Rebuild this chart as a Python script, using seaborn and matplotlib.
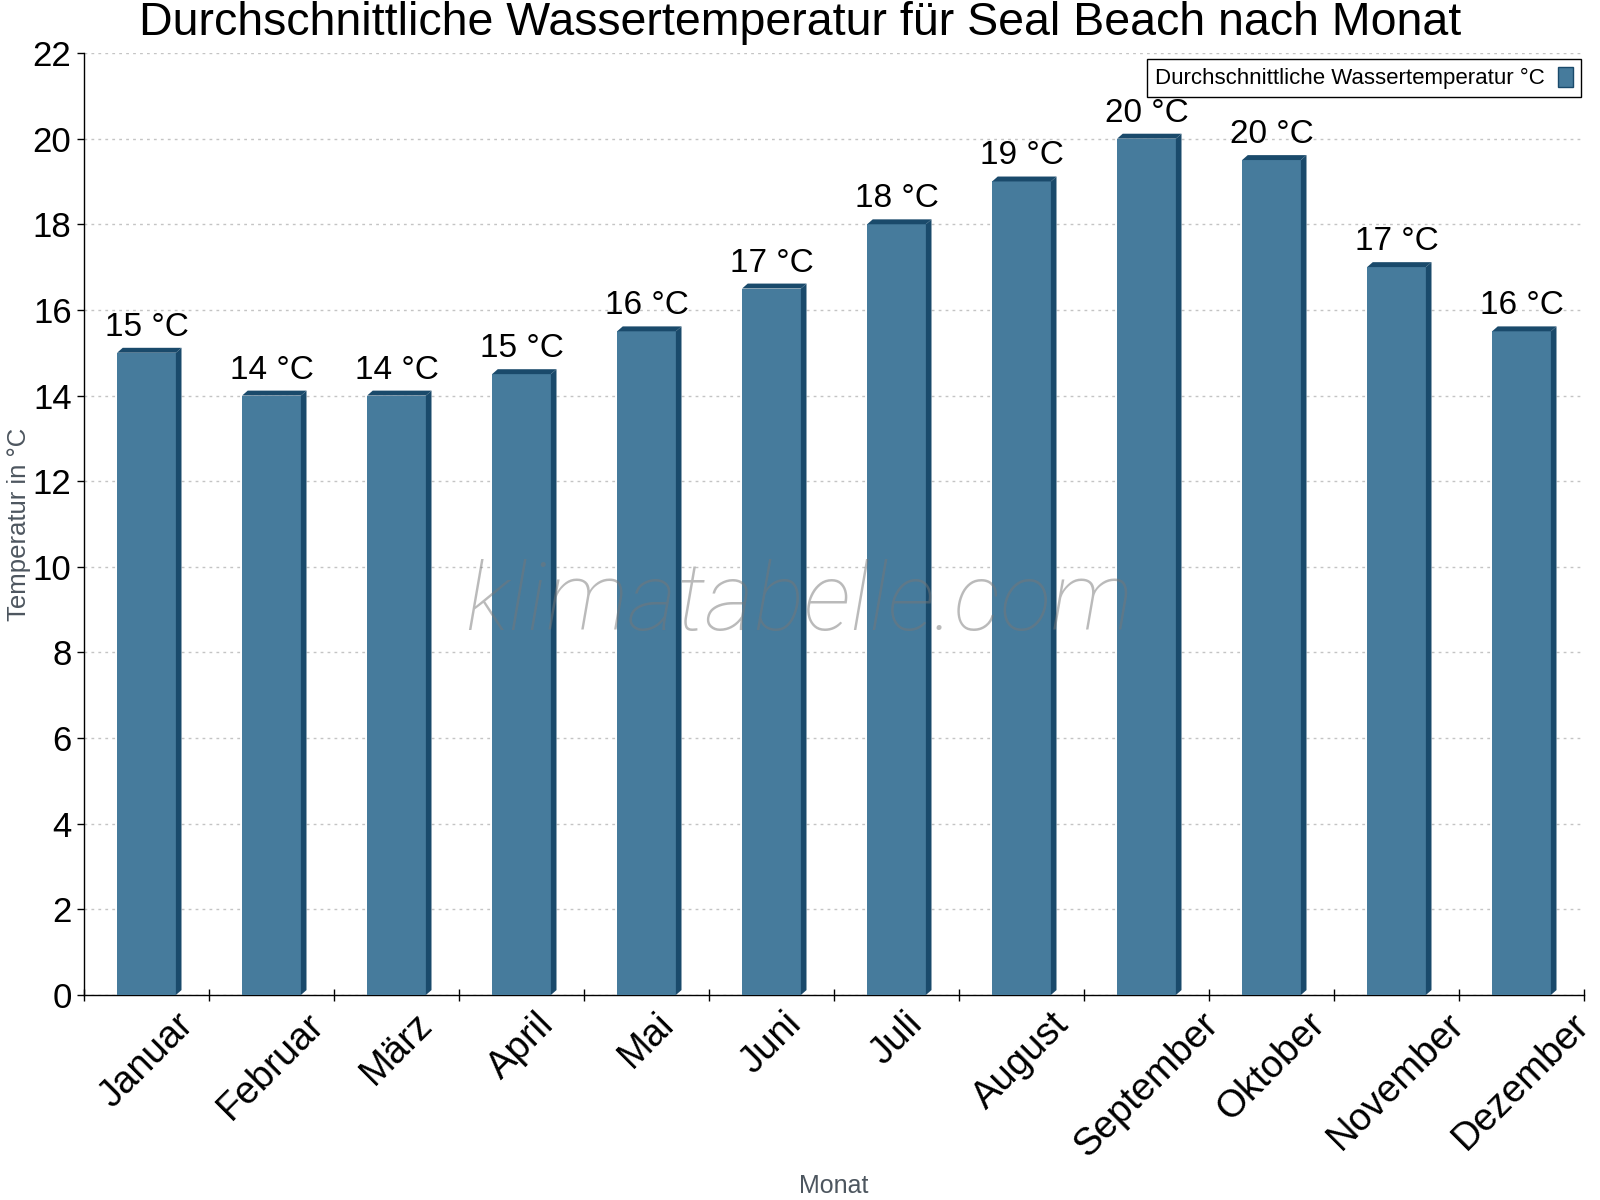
import numpy as np
import pandas as pd
import seaborn as sns
import matplotlib.pyplot as plt
from matplotlib.patches import Polygon, Patch

months = ["Januar", "Februar", "März", "April", "Mai", "Juni", "Juli",
          "August", "September", "Oktober", "November", "Dezember"]
water_temp = [15, 14, 14, 14.5, 15.5, 16.5, 18, 19, 20, 19.5, 17, 15.5]
bar_labels = ["15 °C", "14 °C", "14 °C", "15 °C", "16 °C", "17 °C", "18 °C",
              "19 °C", "20 °C", "20 °C", "17 °C", "16 °C"]
y_ticks = list(range(0, 23, 2))

front = "#467b9c"
dark = "#1a4a6b"

sns.set_style("white")
plt.rcParams["font.family"] = ["Liberation Sans", "DejaVu Sans"]
plt.rcParams["text.color"] = "black"
plt.rcParams["xtick.color"] = "black"
plt.rcParams["ytick.color"] = "black"

df = pd.DataFrame({"Monat": months, "Temp": water_temp})

fig = plt.figure(figsize=(16, 12), dpi=100)
ax = fig.add_axes([84 / 1600, 1 - 995 / 1200, 1500 / 1600, 942 / 1200])

sns.barplot(data=df, x="Monat", y="Temp", color=front, saturation=1,
            width=0.47, ax=ax, zorder=3)

# fake 3d: dark side and top cap
dx, dy = 0.045, 0.115
for p in list(ax.patches):
    x0, w, h = p.get_x(), p.get_width(), p.get_height()
    p.set_edgecolor("none")
    side = Polygon([(x0 + w, 0), (x0 + w + dx, dy), (x0 + w + dx, h + dy), (x0 + w, h)],
                   closed=True, facecolor=dark, edgecolor="none", zorder=3)
    top = Polygon([(x0, h), (x0 + dx, h + dy), (x0 + w + dx, h + dy), (x0 + w, h)],
                  closed=True, facecolor=dark, edgecolor="none", zorder=3)
    ax.add_patch(side)
    ax.add_patch(top)

for i, (v, lab) in enumerate(zip(water_temp, bar_labels)):
    ax.annotate(lab, (i, v), xytext=(0, 10), textcoords="offset pixels",
                ha="center", va="bottom", fontsize=24, color="black", zorder=5)

ax.set_xlim(-0.5, 11.5)
ax.set_ylim(0, 22)
ax.set_yticks(y_ticks)
ax.tick_params(axis="y", labelsize=25, direction="out", length=5, width=1,
               left=True, pad=4, colors="black")
ax.yaxis.grid(True, color="#c4c4c4", linestyle=(0, (2, 3)), linewidth=1, zorder=0)
ax.xaxis.grid(False)

ax.set_xticks(np.arange(12))
ax.set_xticklabels(months, rotation=45, ha="center", va="top", fontsize=27.5)
ax.tick_params(axis="x", which="major", length=0, pad=8, colors="black")
ax.set_xticks(np.arange(-0.5, 12, 1), minor=True)
ax.tick_params(axis="x", which="minor", direction="inout", length=9, width=1,
               bottom=True, colors="black")

for s in ["top", "right"]:
    ax.spines[s].set_visible(False)
for s in ["left", "bottom"]:
    ax.spines[s].set_color("black")
    ax.spines[s].set_linewidth(1)

ax.set_xlabel("Monat", fontsize=18, color="#4d565f")
ax.set_ylabel("Temperatur in °C", fontsize=18.5, color="#4d565f")
ax.xaxis.set_label_coords(0.5, -0.19)
ax.yaxis.set_label_coords(-0.035, 0.5)

fig.suptitle("Durchschnittliche Wassertemperatur für Seal Beach nach Monat",
             fontsize=33.5, y=0.999, va="top", color="black")

ax.text(0.477, 0.415, "klimatabelle.com", transform=ax.transAxes,
        family=["Roboto", "DejaVu Sans"], fontweight="light", style="italic",
        fontsize=68, color="#777777", alpha=0.5, ha="center", va="center", zorder=6)

handle = Patch(facecolor=front, edgecolor=dark)
leg = ax.legend([handle], ["Durchschnittliche Wassertemperatur °C"],
                loc="upper right", bbox_to_anchor=(0.9995, 0.996), fontsize=16,
                markerfirst=False, fancybox=False, framealpha=1,
                handlelength=0.7, handleheight=1.0, borderpad=0.35,
                borderaxespad=0.1, handletextpad=0.6)
leg.get_frame().set_edgecolor("black")
leg.get_frame().set_linewidth(1)

fig.savefig("out.png", dpi=100)
